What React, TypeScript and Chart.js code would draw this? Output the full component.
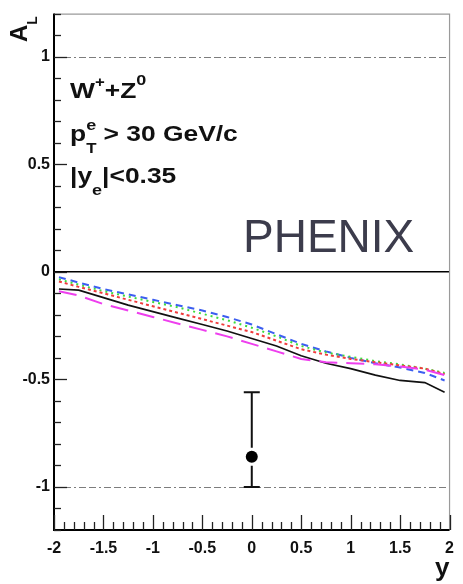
import React, { useEffect, useRef } from "react";
import { Chart, registerables } from "chart.js";

Chart.register(...registerables);

// ---- data ----
const rapidity = [-1.95, -1.75, -1.5, -1.25, -1, -0.75, -0.5, -0.25, 0, 0.25, 0.5, 0.75, 1, 1.25, 1.5, 1.75, 1.95];
const curveBlack = [-0.08, -0.085, -0.12, -0.155, -0.185, -0.215, -0.245, -0.275, -0.31, -0.345, -0.39, -0.425, -0.45, -0.48, -0.505, -0.515, -0.56];
const curveBlue = [-0.025, -0.05, -0.08, -0.105, -0.13, -0.155, -0.18, -0.21, -0.245, -0.29, -0.335, -0.37, -0.4, -0.425, -0.445, -0.47, -0.505];
const curveGreen = [-0.035, -0.06, -0.09, -0.115, -0.14, -0.165, -0.195, -0.225, -0.26, -0.3, -0.345, -0.375, -0.395, -0.415, -0.43, -0.45, -0.47];
const curveRed = [-0.045, -0.07, -0.1, -0.13, -0.16, -0.19, -0.22, -0.25, -0.28, -0.32, -0.36, -0.385, -0.405, -0.42, -0.435, -0.45, -0.475];
const curveMagenta = [-0.09, -0.11, -0.15, -0.18, -0.21, -0.24, -0.27, -0.3, -0.335, -0.37, -0.405, -0.42, -0.425, -0.43, -0.44, -0.455, -0.48];

const measX = [0];
const measY = [-0.86];
const measErrHigh = [0.3];
const measErrLow = [0.14];

const yTickValues = [-1, -0.5, 0, 0.5, 1];
const xTickValues = [-2, -1.5, -1, -0.5, 0, 0.5, 1, 1.5, 2];
const refLines = [1, -1];

const FONT = '"Liberation Sans", Arial, Helvetica, sans-serif';

type Run = { t: string; size: number; dy?: number; bold?: boolean; stack?: boolean };

function drawRuns(ctx: CanvasRenderingContext2D, x: number, y: number, runs: Run[], sx: number) {
  ctx.save();
  ctx.translate(x, y);
  ctx.scale(sx, 1);
  ctx.textBaseline = "alphabetic";
  ctx.textAlign = "left";
  let cx = 0;
  for (const r of runs) {
    ctx.font = `${r.bold === false ? "" : "bold "}${r.size}px ${FONT}`;
    ctx.fillText(r.t, cx, r.dy || 0);
    if (!r.stack) cx += ctx.measureText(r.t).width;
  }
  ctx.restore();
}

const decorPlugin = {
  id: "decor",
  beforeDatasetsDraw(chart: any) {
    const { ctx, chartArea: a, scales } = chart;
    const y = scales.y;
    ctx.save();
    ctx.strokeStyle = "#7d7d7d";
    ctx.lineWidth = 1;
    ctx.setLineDash([7, 3, 7, 3, 2, 3]);
    for (const v of refLines) {
      const py = Math.round(y.getPixelForValue(v)) + 0.5;
      ctx.beginPath();
      ctx.moveTo(a.left, py);
      ctx.lineTo(a.right, py);
      ctx.stroke();
    }
    ctx.setLineDash([]);
    ctx.strokeStyle = "#000";
    ctx.lineWidth = 1.6;
    const p0 = y.getPixelForValue(0);
    ctx.beginPath();
    ctx.moveTo(a.left, p0);
    ctx.lineTo(a.right, p0);
    ctx.stroke();
    ctx.restore();
  },
  afterDatasetsDraw(chart: any) {
    const { ctx, scales } = chart;
    const x = scales.x;
    const y = scales.y;
    ctx.save();
    ctx.strokeStyle = "#111";
    ctx.lineWidth = 2;
    for (let i = 0; i < measX.length; i++) {
      const px = x.getPixelForValue(measX[i]);
      const pc = y.getPixelForValue(measY[i]);
      const ph = y.getPixelForValue(measY[i] + measErrHigh[i]);
      const pl = y.getPixelForValue(measY[i] - measErrLow[i]);
      const gap = 9;
      ctx.beginPath();
      ctx.moveTo(px, ph);
      ctx.lineTo(px, pc - gap);
      ctx.moveTo(px, pc + gap);
      ctx.lineTo(px, pl);
      ctx.moveTo(px - 8, ph);
      ctx.lineTo(px + 8, ph);
      ctx.moveTo(px - 8, pl);
      ctx.lineTo(px + 8, pl);
      ctx.stroke();
    }
    ctx.restore();
  },
  afterDraw(chart: any) {
    const { ctx, chartArea: a, scales } = chart;
    const x = scales.x;
    const y = scales.y;
    ctx.save();
    // frame: top and right grey
    ctx.strokeStyle = "#9a9a9a";
    ctx.lineWidth = 1.2;
    ctx.beginPath();
    ctx.moveTo(a.left, a.top + 0.5);
    ctx.lineTo(a.right, a.top + 0.5);
    ctx.lineTo(a.right, a.bottom);
    ctx.stroke();
    // axes black
    ctx.strokeStyle = "#000";
    ctx.lineWidth = 2;
    ctx.beginPath();
    ctx.moveTo(a.left, a.top);
    ctx.lineTo(a.left, a.bottom);
    ctx.lineTo(a.right, a.bottom);
    ctx.stroke();
    // y ticks (inside)
    ctx.lineWidth = 1.3;
    ctx.strokeStyle = "#222";
    for (let i = -12; i <= 12; i++) {
      const py = Math.round(y.getPixelForValue(i / 10)) + 0.5;
      const len = i % 5 === 0 ? 13 : 7;
      ctx.beginPath();
      ctx.moveTo(a.left, py);
      ctx.lineTo(a.left + len, py);
      ctx.stroke();
    }
    // x ticks (inside)
    for (let i = -20; i <= 20; i++) {
      const px = Math.round(x.getPixelForValue(i / 10)) + 0.5;
      const len = i % 5 === 0 ? 15 : 8;
      ctx.beginPath();
      ctx.moveTo(px, a.bottom);
      ctx.lineTo(px, a.bottom - len);
      ctx.stroke();
    }
    ctx.restore();

    // texts
    ctx.save();
    ctx.fillStyle = "#111";
    drawRuns(ctx, 70, 98, [
      { t: "W", size: 22 },
      { t: "+", size: 14, dy: -11 },
      { t: "+Z", size: 22 },
      { t: "0", size: 15, dy: -13 },
    ], 1.2);
    drawRuns(ctx, 70, 141, [
      { t: "p", size: 22 },
      { t: "T", size: 14, dy: 12, stack: true },
      { t: "e", size: 15, dy: -11 },
      { t: " > 30 GeV/c", size: 22 },
    ], 1.2);
    drawRuns(ctx, 70, 183, [
      { t: "|y", size: 22 },
      { t: "e", size: 15, dy: 12 },
      { t: "|<0.35", size: 22 },
    ], 1.2);
    ctx.fillStyle = "#3c3c4c";
    drawRuns(ctx, 243, 252, [{ t: "PHENIX", size: 46, bold: false }], 1.0);

    ctx.fillStyle = "#111";
    // x axis title
    drawRuns(ctx, 435, 576, [{ t: "y", size: 26 }], 1.0);
    // y axis title rotated
    ctx.save();
    ctx.translate(27, 42);
    ctx.rotate(-Math.PI / 2);
    drawRuns(ctx, 0, 0, [
      { t: "A", size: 24 },
      { t: "L", size: 14, dy: 10 },
    ], 1.0);
    ctx.restore();
    ctx.restore();
  },
};

const tickFont = { family: FONT, size: 16, weight: "bold" as const };

export default function App() {
  const ref = useRef<HTMLCanvasElement | null>(null);
  useEffect(() => {
    if (!ref.current) return;
    const mk = (vals: number[]) => rapidity.map((r, i) => ({ x: r, y: vals[i] }));
    const line = (vals: number[], color: string, dash: number[], width: number) => ({
      data: mk(vals),
      showLine: true,
      borderColor: color,
      borderWidth: width,
      borderDash: dash,
      pointRadius: 0,
      fill: false,
      tension: 0,
    });
    const chart = new Chart(ref.current, {
      type: "scatter",
      data: {
        datasets: [
          line(curveMagenta, "#ee3fee", [18, 9], 2),
          line(curveBlack, "#111111", [], 1.7),
          line(curveRed, "#f03c3c", [3, 3], 2),
          line(curveGreen, "#3cdc3c", [2, 4], 2),
          line(curveBlue, "#3c5ef0", [7, 5], 2),
          {
            data: measX.map((v, i) => ({ x: v, y: measY[i] })),
            showLine: false,
            pointRadius: 6,
            pointBackgroundColor: "#000",
            pointBorderColor: "#000",
            pointBorderWidth: 0,
          },
        ] as any,
      },
      options: {
        animation: false,
        responsive: false,
        layout: { padding: { top: 13, right: 11, left: 0, bottom: 0 } },
        plugins: { legend: { display: false }, tooltip: { enabled: false } },
        scales: {
          x: {
            type: "linear",
            min: -2,
            max: 2,
            grid: { display: false, drawTicks: false },
            border: { display: false },
            afterBuildTicks: (s: any) => {
              s.ticks = xTickValues.map((v) => ({ value: v }));
            },
            afterFit: (s: any) => {
              s.height = 54;
            },
            ticks: {
              color: "#111",
              font: tickFont,
              padding: 9,
              maxRotation: 0,
              autoSkip: false,
              callback: (v: any) => String(v),
            },
          },
          y: {
            type: "linear",
            min: -1.2,
            max: 1.2,
            grid: { display: false, drawTicks: false },
            border: { display: false },
            afterBuildTicks: (s: any) => {
              s.ticks = yTickValues.map((v) => ({ value: v }));
            },
            afterFit: (s: any) => {
              s.width = 54;
            },
            ticks: {
              color: "#111",
              font: tickFont,
              padding: 4,
              autoSkip: false,
              callback: (v: any) => String(v),
            },
          },
        },
      },
      plugins: [decorPlugin as any],
    });
    return () => chart.destroy();
  }, []);
  return (
    <div style={{ position: "fixed", left: 0, top: 0, width: 463, height: 584, background: "#fff" }}>
      <canvas ref={ref} width={463} height={584} style={{ display: "block" }} />
    </div>
  );
}
